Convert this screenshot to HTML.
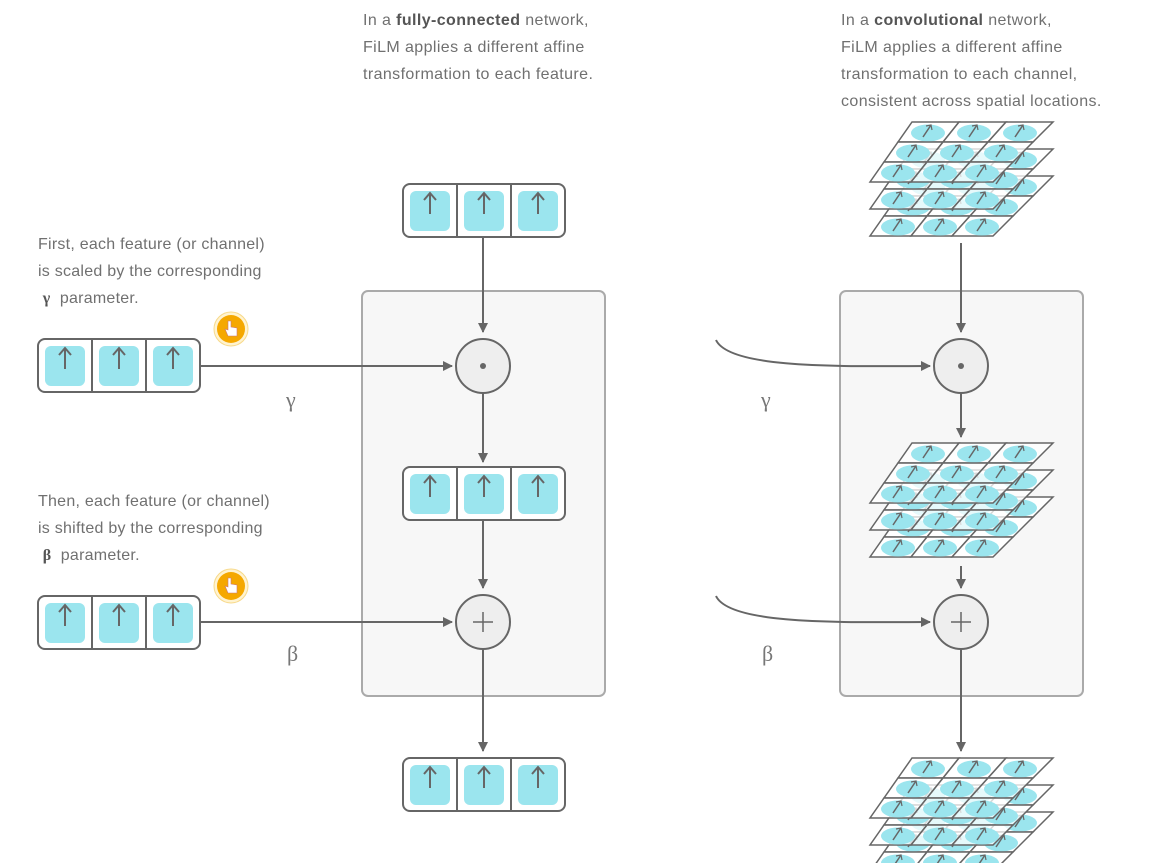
<!DOCTYPE html>
<html><head><meta charset="utf-8"><style>
body{margin:0;background:#fff;width:1149px;height:863px;overflow:hidden;font-family:"Liberation Sans",sans-serif;}
.t{position:absolute;color:#707070;font-size:16px;letter-spacing:0.4px;line-height:27px;white-space:nowrap;}
b{color:#555}
</style></head><body>
<div class="t" style="left:363px;top:7px">In a <b>fully-connected</b> network,<br>FiLM applies a different affine<br>transformation to each feature.</div>
<div class="t" style="left:841px;top:7px">In a <b>convolutional</b> network,<br>FiLM applies a different affine<br>transformation to each channel,<br>consistent across spatial locations.</div>
<div class="t" style="left:38px;top:231px;letter-spacing:0.25px">First, each feature (or channel)<br>is scaled by the corresponding<br>&nbsp;<b style="font-family:'Liberation Serif',serif">γ</b>&nbsp; parameter.</div>
<div class="t" style="left:38px;top:488px;letter-spacing:0.25px">Then, each feature (or channel)<br>is shifted by the corresponding<br>&nbsp;<b style="font-family:'Liberation Serif',serif">β</b>&nbsp; parameter.</div>
<svg id="s" width="1149" height="863" style="position:absolute;left:0;top:0">
<defs><marker id="a" markerWidth="10" markerHeight="10" refX="9" refY="5" orient="auto" markerUnits="userSpaceOnUse"><path d="M0,0 L10,5 L0,10 z" fill="#666"/></marker></defs>
</svg>
<script>
const s=document.getElementById('s');let h='';
function vec(x,y){h+=`<rect x="${x}" y="${y}" width="162" height="53" rx="7" fill="#fff" stroke="#666" stroke-width="2"/>`;
for(let i=0;i<3;i++){const cx=x+i*54;if(i)h+=`<line x1="${cx}" y1="${y}" x2="${cx}" y2="${y+53}" stroke="#666" stroke-width="2"/>`;
h+=`<rect x="${cx+7}" y="${y+7}" width="40" height="40" rx="6" fill="#9be5ee"/><line x1="${cx+27}" y1="${y+30}" x2="${cx+27}" y2="${y+9}" stroke="#666" stroke-width="2"/><path d="M${cx+21},${y+16} L${cx+27},${y+9} L${cx+33},${y+16}" fill="none" stroke="#666" stroke-width="2"/>`}}
function P(u,v,y){const l=912-42*v,r=1053-60*v;return [l+(r-l)*u,y+60*v];}
function layer(y,op){for(let j=0;j<3;j++)for(let i=0;i<3;i++){const a=P(i/3,j/3,y),b=P((i+1)/3,j/3,y),c=P((i+1)/3,(j+1)/3,y),d=P(i/3,(j+1)/3,y);
h+=`<polygon points="${a} ${b} ${c} ${d}" fill="rgba(255,255,255,${op})" stroke="#666" stroke-width="1.5"/>`;
const m=P((i+.5)/3,(j+.5)/3,y);h+=`<ellipse cx="${m[0]}" cy="${m[1]+1}" rx="17" ry="8.5" fill="#9be5ee"/><line x1="${m[0]-5}" y1="${m[1]+5}" x2="${m[0]+3}" y2="${m[1]-7}" stroke="#666" stroke-width="1.5"/><path d="M${m[0]-2},${m[1]-6} L${m[0]+3},${m[1]-7} L${m[0]+4},${m[1]-2}" fill="none" stroke="#666" stroke-width="1.2"/>`}}
function stack(y){layer(y+54,1);layer(y+27,.75);layer(y,.75);}
function panel(x){h+=`<rect x="${x}" y="291" width="243" height="405" rx="6" fill="#f7f7f7" stroke="#aaa" stroke-width="2"/>`}
function circ(cx,cy,sym){h+=`<circle cx="${cx}" cy="${cy}" r="27" fill="#eee" stroke="#666" stroke-width="2"/>`;
if(sym=='.')h+=`<circle cx="${cx}" cy="${cy}" r="3" fill="#666"/>`;else h+=`<path d="M${cx-10},${cy}H${cx+10}M${cx},${cy-10}V${cy+10}" stroke="#666" stroke-width="1.5"/>`}
function ln(d){h+=`<path d="${d}" fill="none" stroke="#666" stroke-width="2" marker-end="url(#a)"/>`}
function hand(cx,cy){h+=`<circle cx="${cx}" cy="${cy}" r="17" fill="#fff3d0" stroke="#f7d98a"/><circle cx="${cx}" cy="${cy}" r="14" fill="#f5a800"/><path d="M${cx-3},${cy+7} L${cx-6},${cy} L${cx-3},${cy+1} L${cx-3},${cy-8} L${cx},${cy-8} L${cx},${cy-2} L${cx+6},${cy-1} L${cx+6},${cy+7}z" fill="#fff" stroke="#c77" stroke-width=".6"/>`}
panel(362);panel(840);
ln('M483,237V332');ln('M483,393V462');ln('M483,520V588');ln('M483,649V751');
ln('M200,366H452');ln('M200,622H452');
ln('M961,243V332');ln('M961,393V437');ln('M961,566V588');ln('M961,649V751');
ln('M716,340 C730,370 850,366 930,366');ln('M716,596 C730,626 850,622 930,622');
circ(483,366,'.');circ(483,622,'+');circ(961,366,'.');circ(961,622,'+');
vec(403,184);vec(38,339);vec(38,596);vec(403,467);vec(403,758);
stack(122);stack(443);stack(758);
hand(231,329);hand(231,586);
h+=`<g font-family="Liberation Serif,serif" font-size="22" fill="#777"><text x="286" y="407">γ</text><text x="761" y="407">γ</text><text x="287" y="661">β</text><text x="762" y="661">β</text></g>`;
s.innerHTML+=h;
</script>
</body></html>
